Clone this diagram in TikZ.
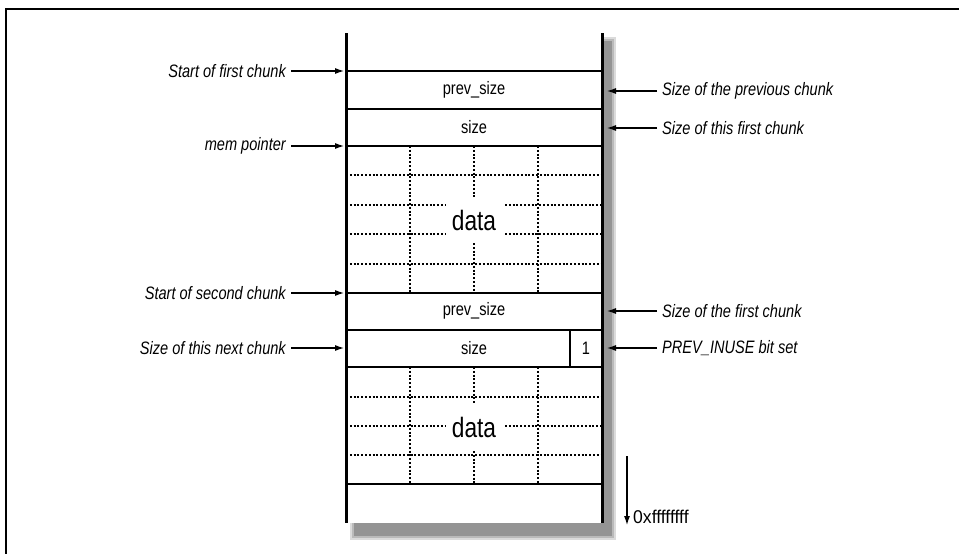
\documentclass[tikz,border=0pt]{standalone}
\usepackage{fontspec}
\setmainfont{Liberation Sans}[FakeStretch=0.81]
\newfontfamily\addrfont{Liberation Sans}[FakeStretch=0.95]
\usetikzlibrary{arrows.meta}
\begin{document}
\begin{tikzpicture}[x=1pt,y=-1pt,
  side/.style={line width=3pt},
  hline/.style={line width=2.5pt},
  dots/.style={line width=2.2pt,dash pattern=on 1.9pt off 1.9pt},
  arr/.style={line width=1.1pt,-{Latex[length=9pt,width=6pt]}},
  larr/.style={arr,shorten <=3pt},
  lbl/.style={font=\fontsize{18}{20}\selectfont\itshape,inner sep=2pt},
  cell/.style={font=\fontsize{18}{20}\selectfont,inner sep=1pt},
  big/.style={font=\fontsize{28}{30}\selectfont,inner sep=1pt}]
\useasboundingbox (0,0) rectangle (959,554);
% frame
\draw[line width=1.4pt] (6,554) -- (6,9) -- (959,9);
% shadow
\fill[black!14] (350,37) rectangle (616,540);
\fill[black!27] (352,39) rectangle (614,538);
\fill[black!42] (354,41) rectangle (612,536);
\fill[white] (346,33) rectangle (602,523);
% dotted grid, first data
\draw[dots] (346,175) -- (602,175);
\draw[dots] (346,205) -- (445,205); \draw[dots] (505,205) -- (602,205);
\draw[dots] (346,234) -- (445,234); \draw[dots] (505,234) -- (602,234);
\draw[dots] (346,264) -- (602,264);
\draw[dots] (410,146) -- (410,293);
\draw[dots] (538,146) -- (538,293);
\draw[dots] (474,146) -- (474,197);
\draw[dots] (474,243) -- (474,293);
% dotted grid, second data
\draw[dots] (346,397) -- (602,397);
\draw[dots] (346,426) -- (445,426); \draw[dots] (505,426) -- (602,426);
\draw[dots] (346,455) -- (602,455);
\draw[dots] (410,367) -- (410,484);
\draw[dots] (538,367) -- (538,484);
\draw[dots] (474,367) -- (474,404);
\draw[dots] (474,451) -- (474,484);
% solid lines
\foreach \y in {71,109,146,293,330,367,484} \draw[hline] (346,\y) -- (602,\y);
\draw[hline] (570,330) -- (570,367);
\draw[side] (346,33) -- (346,523);
\draw[side] (602,33) -- (602,523);
% cell texts
\node[cell] (ps1) at (474,90) {prev\_size};
\node[cell] (sz1) at (474,127) {size};
\node[big] (d1) at (474,220) {data};
\node[cell] (ps2) at (474,311) {prev\_size};
\node[cell] (sz2) at (474,348) {size};
\node[cell] (one) at (586,348) {1};
\node[big] (d2) at (474,427) {data};
% left labels
\coordinate (tl1) at (344,71);
\coordinate (tl2) at (344,146);
\coordinate (tl3) at (344,293);
\coordinate (tl4) at (344,348);
\node[lbl,anchor=east] (ll1) at (288,71) {Start of first chunk};
\node[lbl,anchor=east] (ll2) at (288,146) {mem pointer};
\node[lbl,anchor=east] (ll3) at (288,293) {Start of second chunk};
\node[lbl,anchor=east] (ll4) at (288,348) {Size of this next chunk};
\draw[larr] (ll1.east) -- (tl1);
\draw[larr] (ll2.east) -- (tl2);
\draw[larr] (ll3.east) -- (tl3);
\draw[larr] (ll4.east) -- (tl4);
% right labels
\coordinate (tr1) at (607,91);
\coordinate (tr2) at (607,128);
\coordinate (tr3) at (607,311);
\coordinate (tr4) at (607,348);
\node[lbl,anchor=west] (rl1) at (660,91) {Size of the previous chunk};
\node[lbl,anchor=west] (rl2) at (660,128) {Size of this first chunk};
\node[lbl,anchor=west] (rl3) at (660,311) {Size of the first chunk};
\node[lbl,anchor=west] (rl4) at (660,348) {PREV\_INUSE bit set};
\draw[larr] (rl1.west) -- (tr1);
\draw[larr] (rl2.west) -- (tr2);
\draw[larr] (rl3.west) -- (tr3);
\draw[larr] (rl4.west) -- (tr4);
% address arrow
\coordinate (a0) at (627,456);
\coordinate (a1) at (627,525);
\draw[arr] (a0) -- (a1);
\node[font=\fontsize{18.5}{20}\addrfont,inner sep=1pt,anchor=west] (addr) at (632,517) {0xffffffff};
\end{tikzpicture}
\end{document}
